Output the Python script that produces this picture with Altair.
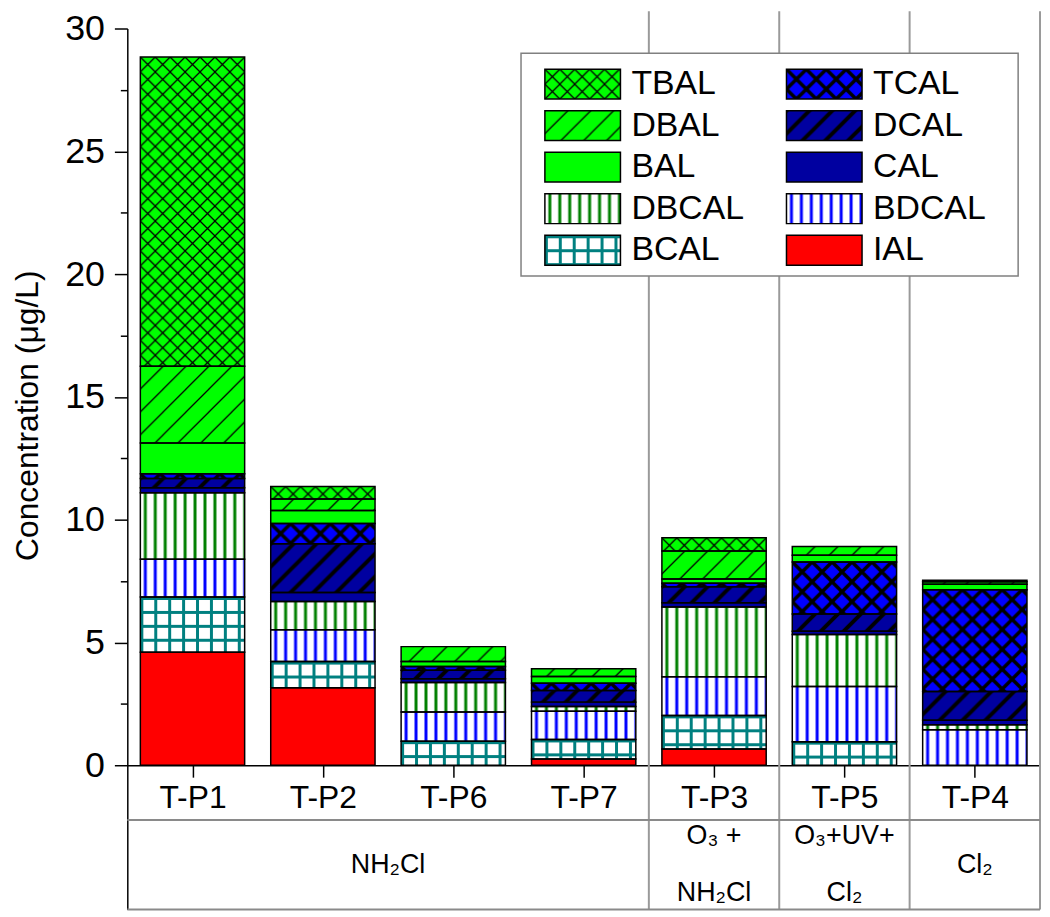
import base64
import json
import altair as alt
import pandas as pd

# ---------------- data ----------------
samples = ["T-P1", "T-P2", "T-P6", "T-P7", "T-P3", "T-P5", "T-P4"]
species = ["IAL", "BCAL", "BDCAL", "DBCAL", "CAL", "DCAL", "TCAL", "BAL", "DBAL", "TBAL"]  # bottom -> top
legend_order = ["TBAL", "TCAL", "DBAL", "DCAL", "BAL", "CAL", "DBCAL", "BDCAL", "BCAL", "IAL"]

ial   = [4.60, 3.16, 0.00, 0.25, 0.66, 0.00, 0.00]
bcal  = [2.25, 1.06, 0.98, 0.80, 1.37, 0.96, 0.00]
bdcal = [1.54, 1.30, 1.19, 1.15, 1.57, 2.25, 1.45]
dbcal = [2.71, 1.15, 1.20, 0.19, 2.84, 2.11, 0.20]
cal   = [0.20, 0.36, 0.15, 0.18, 0.18, 0.14, 0.18]
dcal  = [0.38, 1.99, 0.35, 0.47, 0.65, 0.70, 1.17]
tcal  = [0.19, 0.82, 0.15, 0.30, 0.14, 2.12, 4.15]
bal   = [1.25, 0.53, 0.20, 0.27, 0.17, 0.27, 0.22]
dbal  = [3.13, 0.47, 0.61, 0.32, 1.14, 0.36, 0.10]
tbal  = [12.59, 0.51, 0.00, 0.00, 0.54, 0.00, 0.06]

treatments = ["NH₂Cl", "O₃ +|NH₂Cl", "O₃+UV+|Cl₂", "Cl₂"]
treatment_first = [0, 4, 5, 6]
treatment_last = [3, 4, 5, 6]

# ---------------- styles ----------------
FONT = "Liberation Sans"
BASE_FILL = {"IAL": "#ff0000", "BCAL": "#ffffff", "BDCAL": "#ffffff", "DBCAL": "#ffffff",
             "CAL": "#0000a0", "DCAL": "#0000a0", "TCAL": "#0000ff",
             "BAL": "#00ff00", "DBAL": "#00ff00", "TBAL": "#00ff00"}


def pattern_uri(w, h, body):
    svg = ("<svg xmlns='http://www.w3.org/2000/svg' width='100%' height='100%'>"
           f"<defs><pattern id='p' patternUnits='userSpaceOnUse' width='{w}' height='{h}'>{body}</pattern></defs>"
           "<rect x='0' y='0' width='100%' height='100%' fill='url(#p)'/></svg>")
    return "data:image/svg+xml;base64," + base64.b64encode(svg.encode()).decode()


def cross(p, sw):
    d = (f"M{-p},{-p}L{2*p},{2*p}M{-p},0L{p},{2*p}M0,{-p}L{2*p},{p}"
         f"M{2*p},{-p}L{-p},{2*p}M{p},{-p}L{-p},{p}M{2*p},0L0,{2*p}")
    return pattern_uri(p, p, f"<path d='{d}' stroke='black' stroke-width='{sw}' fill='none'/>")


def diag(p, sw):
    d = f"M{-p},{2*p}L{2*p},{-p}M{-p},{p}L{p},{-p}M0,{2*p}L{2*p},0"
    return pattern_uri(p, p, f"<path d='{d}' stroke='black' stroke-width='{sw}' fill='none'/>")


def vstripe(p, sw, c):
    return pattern_uri(p, p, f"<rect x='{(p - sw) / 2}' y='0' width='{sw}' height='{p}' fill='{c}'/>")


def grid(p, sw, c):
    return pattern_uri(p, p, f"<rect x='0' y='0' width='{sw}' height='{p}' fill='{c}'/>"
                             f"<rect x='0' y='0' width='{p}' height='{sw}' fill='{c}'/>")


HATCH = {"TBAL": cross(15, 1.3), "DBAL": diag(23, 1.3),
         "TCAL": cross(20, 3.5), "DCAL": diag(23, 4.0),
         "DBCAL": vstripe(10, 3, "#008000"), "BDCAL": vstripe(10, 3, "#0000ff"),
         "BCAL": grid(14, 3, "#008080")}

# ---------------- tables built from the arrays ----------------
series = dict(zip(species, [ial, bcal, bdcal, dbcal, cal, dcal, tcal, bal, dbal, tbal]))
rows = []
for i, s in enumerate(samples):
    for k, sp in enumerate(species):
        rows.append({"sample": s, "idx": i, "species": sp, "sorder": k,
                     "value": series[sp][i], "url": HATCH.get(sp, "")})
df = pd.DataFrame(rows)

trows = []
for t, a, b in zip(treatments, treatment_first, treatment_last):
    lines = t.split("|")
    for j, line in enumerate(lines):
        trows.append({"label": line, "tx": (a + b) / 2, "line": j, "nlines": len(lines)})
tdf = pd.DataFrame(trows)

sep_df = pd.DataFrame({"sx": [b + 0.5 for b in treatment_last[:-1]] + [len(samples) - 0.5]})
one = pd.DataFrame({"a": [0]})
ldf = pd.DataFrame({"species": legend_order, "k": list(range(len(legend_order))),
                    "url": [HATCH.get(s, "") for s in legend_order]})

# ---------------- scales / axes ----------------
Y_MIN = -5.87
ROW_LINE = -2.23
Y_TOP = 30.7
xs = alt.Scale(domain=[-0.5, len(samples) - 0.5], nice=False, zero=False)
ys = alt.Scale(domain=[Y_MIN, 30], nice=False, zero=False)
fs = alt.Scale(domain=species, range=[BASE_FILL[s] for s in species])

x_axis = alt.Axis(values=list(range(len(samples))), labelExpr=json.dumps(samples) + "[datum.value]",
                  title="", offset=-145, grid=False, tickSize=12, tickWidth=1.5, tickColor="black",
                  domainColor="black", domainWidth=1.5, labelFontSize=32, labelPadding=6,
                  labelColor="black", labelOverlap=False, labelFlush=False)
y_axis = alt.Axis(values=[i * 2.5 for i in range(13)],
                  labelExpr="datum.value % 5 === 0 ? datum.label : ''",
                  tickSize={"condition": {"test": "datum.value % 5 === 0", "value": 13}, "value": 7},
                  tickWidth=1.5, tickColor="black", domainColor="black", domainWidth=1.5,
                  grid=False, labelFontSize=36, labelPadding=10, labelColor="black",
                  labelOverlap=False, labelFlush=False,
                  title="Concentration (μg/L)", titleFontSize=32, titleFontWeight="normal",
                  titleColor="black", titleX=-100, titleY=389, titleAngle=270,
                  titleAlign="center", titleBaseline="middle")


def X(f):
    return alt.X(f, scale=xs, axis=x_axis)


def Y(f):
    return alt.Y(f, scale=ys, axis=y_axis)


stacked = (alt.Chart(df)
           .transform_filter("datum.value > 0")
           .transform_stack(stack="value", groupby=["sample"], as_=["y0", "y1"],
                            sort=[alt.SortField("sorder", "ascending")])
           .transform_calculate(x0="datum.idx - 0.4", x1="datum.idx + 0.4"))

bars_fill = stacked.mark_rect(strokeWidth=0).encode(
    x=X("x0:Q"), x2="x1:Q", y=Y("y0:Q"), y2="y1:Q",
    fill=alt.Fill("species:N", scale=fs, legend=None))

bars_hatch = stacked.transform_filter("datum.url != ''").mark_image(aspect=False).encode(
    x=X("x0:Q"), x2="x1:Q", y=Y("y0:Q"), y2="y1:Q", url="url:N")

bars_outline = stacked.mark_rect(fillOpacity=0, stroke="black", strokeWidth=1.5).encode(
    x=X("x0:Q"), x2="x1:Q", y=Y("y0:Q"), y2="y1:Q")

separators = alt.Chart(sep_df).transform_calculate(yt=str(Y_TOP), yb=str(Y_MIN)).mark_rule(
    color="#9a9a9a", strokeWidth=2).encode(x=X("sx:Q"), y=Y("yt:Q"), y2="yb:Q")

hlines = alt.Chart(pd.DataFrame({"hy": [ROW_LINE, Y_MIN]})).transform_calculate(
    xa="-0.5", xb=str(len(samples) - 0.5)).mark_rule(color="#8a8a8a", strokeWidth=2).encode(
    x=X("xa:Q"), x2="xb:Q", y=Y("hy:Q"))

treat_text = alt.Chart(tdf).transform_calculate(
    ty="-4.05 + ((datum.nlines - 1) / 2 - datum.line) * 2.31").mark_text(
    fontSize=27, color="black", baseline="middle", align="center").encode(
    x=X("tx:Q"), y=Y("ty:Q"), text="label:N")

# ---------------- legend (drawn in pixel space) ----------------
legend_pos = alt.Chart(ldf).transform_calculate(
    col="datum.k % 2", row="floor(datum.k / 2)").transform_calculate(
    lx="420 + datum.col * 243", lx2="496 + datum.col * 243",
    ly="41 + datum.row * 41.75", ly2="71 + datum.row * 41.75",
    tx="507 + datum.col * 243", ty="56 + datum.row * 41.75")

legend_box = alt.Chart(one).mark_rect(fill="white", stroke="#808080", strokeWidth=1.5).encode(
    x=alt.value(396), x2=alt.value(896), y=alt.value(25), y2=alt.value(249))

lenc = dict(x=alt.X("lx:Q", scale=None), x2="lx2:Q",
            y=alt.Y("ly:Q", scale=None), y2="ly2:Q")
legend_fill = legend_pos.mark_rect(strokeWidth=0).encode(
    fill=alt.Fill("species:N", scale=fs, legend=None), **lenc)
legend_hatch = legend_pos.transform_filter("datum.url != ''").mark_image(aspect=False).encode(
    url="url:N", **lenc)
legend_outline = legend_pos.mark_rect(fillOpacity=0, stroke="black", strokeWidth=1.5).encode(**lenc)
legend_text = legend_pos.mark_text(align="left", baseline="middle", fontSize=34, color="black").encode(
    x=alt.X("tx:Q", scale=None), y=alt.Y("ty:Q", scale=None), text="species:N")

chart = alt.layer(
    separators, hlines, bars_fill, bars_hatch, bars_outline, treat_text,
    legend_box, legend_fill, legend_hatch, legend_outline, legend_text
).properties(
    width=918, height=886,
    autosize=alt.AutoSizeParams(type="none"),
    padding={"left": 120, "top": 18, "right": 2, "bottom": 1},
).configure(font=FONT).configure_view(strokeWidth=0)

chart.save("out.html", embed_options={"renderer": "svg", "actions": False})
